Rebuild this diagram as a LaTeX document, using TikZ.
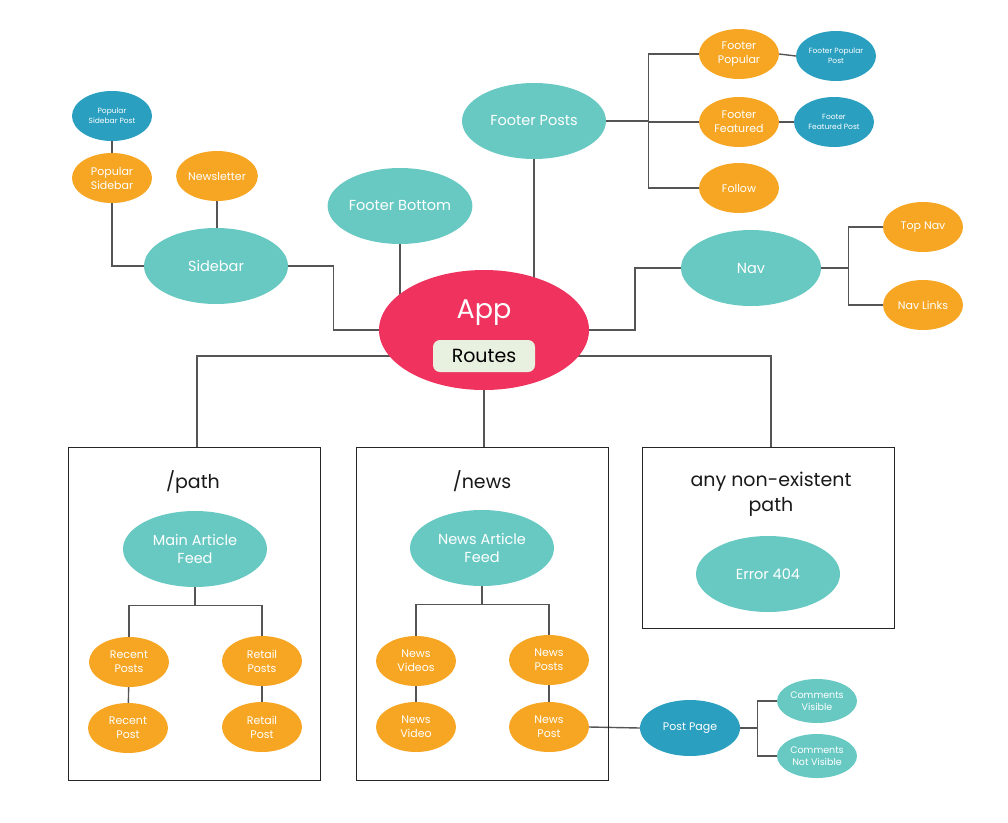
\documentclass[tikz,border=0pt]{standalone}
\usepackage{fontspec}
\setmainfont{Poppins}
\usetikzlibrary{shapes.geometric,backgrounds,calc}
\definecolor{cteal}{HTML}{68C9C3}
\definecolor{corange}{HTML}{F6A623}
\definecolor{cblue}{HTML}{2A9FC0}
\definecolor{cpink}{HTML}{EF335E}
\definecolor{croutes}{HTML}{E8F0DF}
\definecolor{cline}{HTML}{555555}
\tikzset{
  ell/.style={ellipse, inner sep=0pt, text=white, align=center},
  bignode/.style={ell, fill=cteal, minimum width=144pt, minimum height=76pt, font=\fontsize{14.5}{18}\selectfont},
  orangenode/.style={ell, fill=corange, minimum width=80pt, minimum height=50pt, font=\fontsize{11}{14}\selectfont},
  bluenode/.style={ell, fill=cblue, minimum width=80pt, minimum height=50pt, font=\fontsize{7.5}{10}\selectfont},
  tealsmall/.style={ell, fill=cteal, minimum width=80pt, minimum height=44pt, font=\fontsize{9.5}{12}\selectfont},
  conn/.style={draw=cline, line width=1.4pt},
  boxnode/.style={draw=black!85, line width=1pt, inner sep=0pt},
  title/.style={font=\fontsize{19}{25}\selectfont, align=center, text=black!90},
}
\begin{document}
\begin{tikzpicture}[x=1pt,y=-1pt]
\useasboundingbox (0,0) rectangle (1008,822);
% boxes
\node[boxnode, minimum width=252pt, minimum height=333pt] (box1) at (194,613.5) {};
\node[boxnode, minimum width=252pt, minimum height=333pt] (box2) at (482,613.5) {};
\node[boxnode, minimum width=252pt, minimum height=181pt] (box3) at (768,537.5) {};
\node[title] (t1) at (193,482) {/path};
\node[title] (t2) at (482,481) {/news};
\node[title] (t3) at (771,494) {any non-existent\\path};
% top nodes
\node[bluenode] (psp) at (112,116) {Popular\\Sidebar Post};
\node[orangenode] (ps) at (112,178) {Popular\\Sidebar};
\node[orangenode, minimum width=78pt] (nl) at (217,176) {Newsletter};
\node[bignode] (sb) at (216,266) {Sidebar};
\node[bignode] (fb) at (400,206) {Footer Bottom};
\node[bignode] (fp) at (534,121) {Footer Posts};
\node[ell, fill=cpink, minimum width=210pt, minimum height=120pt] (app) at (484,330) {};
\node[text=white, font=\fontsize{27}{30}\selectfont] (apptxt) at (484,313) {App};
\node[draw=none, fill=croutes, rounded corners=7pt, minimum width=102pt, minimum height=32pt, inner sep=0pt, font=\fontsize{19}{22}\selectfont] (routes) at (484,356) {Routes};
\node[bignode, minimum width=140pt] (nav) at (751,268) {Nav};
\node[orangenode] (tn) at (923,227) {Top Nav};
\node[orangenode] (nlk) at (923,305) {Nav Links};
\node[orangenode] (fpop) at (739,54) {Footer\\Popular};
\node[orangenode] (ffeat) at (739,122) {Footer\\Featured};
\node[orangenode] (fol) at (739,188) {Follow};
\node[bluenode] (fpp) at (836,56) {Footer Popular\\Post};
\node[bluenode] (ffp) at (834,122) {Footer\\Featured Post};
% box contents
\node[bignode] (maf) at (195,549) {Main Article\\Feed};
\node[bignode] (naf) at (482,548) {News Article\\Feed};
\node[bignode] (e404) at (768,574) {Error 404};
\node[orangenode] (rps) at (129,662) {Recent\\Posts};
\node[orangenode] (rp) at (128,728) {Recent\\Post};
\node[orangenode] (tps) at (262,661) {Retail\\Posts};
\node[orangenode] (tp) at (262,727) {Retail\\Post};
\node[orangenode] (nvs) at (416,661) {News\\Videos};
\node[orangenode] (nv) at (416,727) {News\\Video};
\node[orangenode] (nps) at (549,660) {News\\Posts};
\node[orangenode] (np) at (549,727) {News\\Post};
\node[ell, fill=cblue, minimum width=100pt, minimum height=56pt, font=\fontsize{11}{13}\selectfont] (pp) at (690,728) {Post Page};
\node[tealsmall] (cv) at (817,701) {Comments\\Visible};
\node[tealsmall] (cnv) at (817,756) {Comments\\Not Visible};
% connectors
\begin{scope}[on background layer]
\draw[conn] (psp) -- (ps);
\draw[conn] (ps.south) |- (sb.west);
\draw[conn] (nl.south) -- (nl.south |- sb.north);
\draw[conn] (sb.east) -- ++(45,0) |- (app.west);
\draw[conn] (fb.south) -- (fb.south |- app.center);
\draw[conn] (fp.south) -- (fp.south |- app.center);
\draw[conn] (nav.west) -- ++(-46,0) |- (app.east);
\draw[conn] (nav.east) -- ++(27,0) coordinate (navj);
\draw[conn] (tn.west) -| (navj) |- (nlk.west);
\draw[conn] (fp.east) -- ++(42,0) coordinate (fpj);
\draw[conn] (fpop.west) -| (fpj) |- (fol.west);
\draw[conn] (fpj |- ffeat.west) -- (ffeat.west);
\draw[conn] (fpop.east) -- (fpp.west);
\draw[conn] (ffeat.east) -- (ffp.west);
\draw[conn] (routes.center) -| ($(box1.north)+(3,0)$);
\draw[conn] (routes.center) -| ($(box3.north)+(3,0)$);
\draw[conn] (routes.center) -- (routes.center |- box2.north);
\draw[conn] (maf.south) -- ++(0,18) coordinate (mafj);
\draw[conn] (rps.north) |- (mafj) -| (tps.north);
\draw[conn] (rps) -- (rp);
\draw[conn] (tps) -- (tp);
\draw[conn] (naf.south) -- ++(0,18) coordinate (nafj);
\draw[conn] (nvs.north) |- (nafj) -| (nps.north);
\draw[conn] (nvs) -- (nv);
\draw[conn] (nps) -- (np);
\draw[conn] (np.east) -- (pp.west);
\draw[conn] (pp.east) -- ++(17,0) coordinate (ppj);
\draw[conn] (cv.west) -| (ppj) |- (cnv.west);
\end{scope}
\end{tikzpicture}
\end{document}
